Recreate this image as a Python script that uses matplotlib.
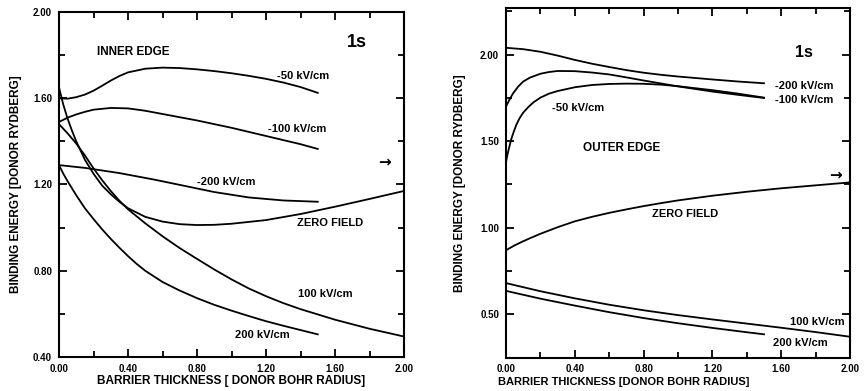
import matplotlib
matplotlib.use("Agg")
import matplotlib.pyplot as plt
from matplotlib.ticker import MultipleLocator, FormatStrFormatter

plt.rcParams['font.family'] = ['Liberation Sans', 'DejaVu Sans']
plt.rcParams['font.weight'] = 'bold'

# ---------------- Left panel (INNER EDGE) ----------------
L_m50_x = [0, 0.05, 0.1, 0.15, 0.2, 0.25, 0.3, 0.35, 0.4, 0.5, 0.6, 0.7, 0.8, 0.9, 1.0, 1.1, 1.2, 1.3, 1.4, 1.5]
L_m50_y = [1.60, 1.598, 1.605, 1.617, 1.635, 1.658, 1.682, 1.703, 1.72, 1.737, 1.742, 1.740, 1.734, 1.726,
           1.716, 1.704, 1.69, 1.673, 1.652, 1.625]

L_m100_x = [0, 0.05, 0.1, 0.15, 0.2, 0.3, 0.4, 0.5, 0.6, 0.7, 0.8, 1.0, 1.2, 1.4, 1.5]
L_m100_y = [1.49, 1.51, 1.525, 1.537, 1.547, 1.555, 1.553, 1.542, 1.527, 1.512, 1.497, 1.463, 1.425, 1.387, 1.365]

L_m200_x = [0, 0.15, 0.35, 0.55, 0.75, 0.9, 1.1, 1.3, 1.5]
L_m200_y = [1.29, 1.277, 1.253, 1.223, 1.19, 1.165, 1.14, 1.126, 1.12]

L_zero_x = [0, 0.025, 0.05, 0.075, 0.1, 0.15, 0.2, 0.25, 0.3, 0.35, 0.4, 0.5, 0.6, 0.7, 0.8, 0.9, 1.0,
            1.2, 1.4, 1.6, 1.8, 2.0]
L_zero_y = [1.65, 1.57, 1.505, 1.45, 1.40, 1.315, 1.25, 1.195, 1.155, 1.12, 1.09, 1.05, 1.028, 1.016, 1.012,
            1.013, 1.018, 1.035, 1.063, 1.097, 1.133, 1.17]

L_p100_x = [0, 0.05, 0.1, 0.15, 0.2, 0.25, 0.3, 0.35, 0.4, 0.5, 0.6, 0.7, 0.8, 0.9, 1.0, 1.1, 1.2, 1.3,
            1.4, 1.6, 1.8, 2.0]
L_p100_y = [1.48, 1.437, 1.39, 1.335, 1.275, 1.22, 1.17, 1.125, 1.085, 1.02, 0.96, 0.905, 0.855, 0.806,
            0.76, 0.718, 0.682, 0.65, 0.622, 0.573, 0.531, 0.495]

L_p200_x = [0, 0.025, 0.05, 0.1, 0.15, 0.2, 0.25, 0.3, 0.35, 0.4, 0.45, 0.5, 0.6, 0.7, 0.8, 0.9, 1.0,
            1.1, 1.2, 1.3, 1.4, 1.5]
L_p200_y = [1.29, 1.25, 1.215, 1.15, 1.09, 1.04, 0.992, 0.948, 0.907, 0.868, 0.832, 0.80, 0.748, 0.708,
            0.673, 0.642, 0.615, 0.59, 0.566, 0.545, 0.525, 0.505]

# ---------------- Right panel (OUTER EDGE) ----------------
R_m200_x = [0, 0.1, 0.2, 0.3, 0.4, 0.5, 0.6, 0.7, 0.8, 0.9, 1.0, 1.2, 1.35, 1.5]
R_m200_y = [2.04, 2.032, 2.017, 1.995, 1.97, 1.948, 1.929, 1.911, 1.896, 1.884, 1.874, 1.857, 1.845, 1.835]

R_m100_x = [0, 0.02, 0.04, 0.07, 0.1, 0.14, 0.2, 0.25, 0.3, 0.4, 0.5, 0.6, 0.7, 0.8, 1.0, 1.2, 1.35, 1.5]
R_m100_y = [1.70, 1.74, 1.775, 1.815, 1.845, 1.868, 1.89, 1.90, 1.906, 1.905, 1.897, 1.886, 1.869, 1.851,
            1.817, 1.787, 1.768, 1.75]

R_m50_x = [0, 0.01, 0.02, 0.03, 0.045, 0.06, 0.08, 0.1, 0.13, 0.16, 0.2, 0.25, 0.3, 0.4, 0.5, 0.6, 0.7,
           0.8, 0.9, 1.0, 1.2, 1.35, 1.5]
R_m50_y = [1.38, 1.43, 1.47, 1.51, 1.555, 1.595, 1.635, 1.665, 1.698, 1.725, 1.752, 1.775, 1.79, 1.812,
           1.825, 1.831, 1.833, 1.832, 1.827, 1.818, 1.795, 1.775, 1.752]

R_zero_x = [0, 0.05, 0.1, 0.15, 0.2, 0.3, 0.4, 0.5, 0.6, 0.7, 0.8, 0.9, 1.0, 1.2, 1.4, 1.6, 1.8, 2.0]
R_zero_y = [0.87, 0.898, 0.922, 0.944, 0.965, 1.003, 1.037, 1.063, 1.086, 1.106, 1.125, 1.142, 1.158,
            1.185, 1.208, 1.228, 1.245, 1.262]

R_p100_x = [0, 0.2, 0.4, 0.6, 0.8, 1.0, 1.2, 1.4, 1.6, 1.8, 2.0]
R_p100_y = [0.68, 0.633, 0.592, 0.555, 0.523, 0.495, 0.47, 0.446, 0.422, 0.397, 0.37]

R_p200_x = [0, 0.2, 0.4, 0.6, 0.8, 1.0, 1.2, 1.4, 1.5]
R_p200_y = [0.635, 0.59, 0.55, 0.512, 0.478, 0.448, 0.421, 0.396, 0.384]

XLABEL_L = "BARRIER THICKNESS [ DONOR BOHR RADIUS]"
XLABEL_R = "BARRIER THICKNESS [DONOR BOHR RADIUS]"
YLABEL = "BINDING ENERGY [DONOR RYDBERG]"

fig = plt.figure(figsize=(8.65, 3.91), dpi=100)
axL = fig.add_axes([59/865, 1-357/391, (404-59)/865, (357-12)/391])
axR = fig.add_axes([506/865, 1-357.5/391, (850-506)/865, (357.5-8)/391])

lw = 1.3
for x, y in [(L_m50_x, L_m50_y), (L_m100_x, L_m100_y), (L_m200_x, L_m200_y),
             (L_zero_x, L_zero_y), (L_p100_x, L_p100_y), (L_p200_x, L_p200_y)]:
    axL.plot(x, y, color='black', lw=lw, solid_joinstyle='round')
for x, y in [(R_m200_x, R_m200_y), (R_m100_x, R_m100_y), (R_m50_x, R_m50_y),
             (R_zero_x, R_zero_y), (R_p100_x, R_p100_y), (R_p200_x, R_p200_y)]:
    axR.plot(x, y, color='black', lw=lw, solid_joinstyle='round')

def style(ax, ymaj, ymin):
    ax.xaxis.set_major_locator(MultipleLocator(0.4))
    ax.xaxis.set_minor_locator(MultipleLocator(0.2))
    ax.yaxis.set_major_locator(MultipleLocator(ymaj))
    ax.yaxis.set_minor_locator(MultipleLocator(ymin))
    ax.xaxis.set_major_formatter(FormatStrFormatter('%.2f'))
    ax.yaxis.set_major_formatter(FormatStrFormatter('%.2f'))
    ax.tick_params(which='both', direction='in', top=True, right=True, width=1.3)
    ax.tick_params(which='major', length=6, labelsize=7, pad=5)
    ax.tick_params(which='minor', length=4)
    for s in ax.spines.values():
        s.set_linewidth(1.5)
    for lab in ax.get_xticklabels() + ax.get_yticklabels():
        lab.set_fontweight('bold')

axL.set_xlim(0, 2.0)
axL.set_ylim(0.4, 2.0)
style(axL, 0.4, 0.2)
axR.set_xlim(0, 2.0)
axR.set_ylim(0.25, 2.27)
style(axR, 0.5, 0.25)

axL.set_xlabel(XLABEL_L, fontsize=8.5, fontweight='bold', labelpad=1)
axL.set_ylabel(YLABEL, fontsize=8.5, fontweight='bold', labelpad=8)
axR.set_xlabel(XLABEL_R, fontsize=8, fontweight='bold', labelpad=1)
axR.xaxis.set_label_coords(0.343, -0.055)
axR.set_ylabel(YLABEL, fontsize=8.5, fontweight='bold', labelpad=10)

fs = 8
tk = dict(fontweight='bold', va='center', ha='left')
axL.text(0.22, 1.815, "INNER EDGE", fontsize=8.5, **tk)
axL.text(1.67, 1.86, "1s", fontsize=13, **tk)
axL.text(1.264, 1.703, "-50 kV/cm", fontsize=fs, **tk)
axL.text(1.21, 1.457, "-100 kV/cm", fontsize=fs, **tk)
axL.text(0.80, 1.212, "-200 kV/cm", fontsize=fs, **tk)
axL.text(1.38, 1.02, "ZERO FIELD", fontsize=fs, **tk)
axL.text(1.386, 0.692, "100 kV/cm", fontsize=fs, **tk)
axL.text(1.02, 0.502, "200 kV/cm", fontsize=fs, **tk)
axL.text(1.85, 1.305, "\u2192", fontsize=11, family='DejaVu Sans', **tk)

axR.text(1.68, 2.01, "1s", fontsize=11.5, **tk)
axR.text(1.564, 1.82, "-200 kV/cm", fontsize=fs, **tk)
axR.text(1.564, 1.74, "-100 kV/cm", fontsize=fs, **tk)
axR.text(0.267, 1.69, "-50 kV/cm", fontsize=fs, **tk)
axR.text(0.448, 1.46, "OUTER EDGE", fontsize=8.5, **tk)
axR.text(0.85, 1.08, "ZERO FIELD", fontsize=fs, **tk)
axR.text(1.65, 0.455, "100 kV/cm", fontsize=fs, **tk)
axR.text(1.55, 0.334, "200 kV/cm", fontsize=fs, **tk)
axR.text(1.88, 1.305, "\u2192", fontsize=11, family='DejaVu Sans', **tk)

fig.savefig("out.png", dpi=100)
